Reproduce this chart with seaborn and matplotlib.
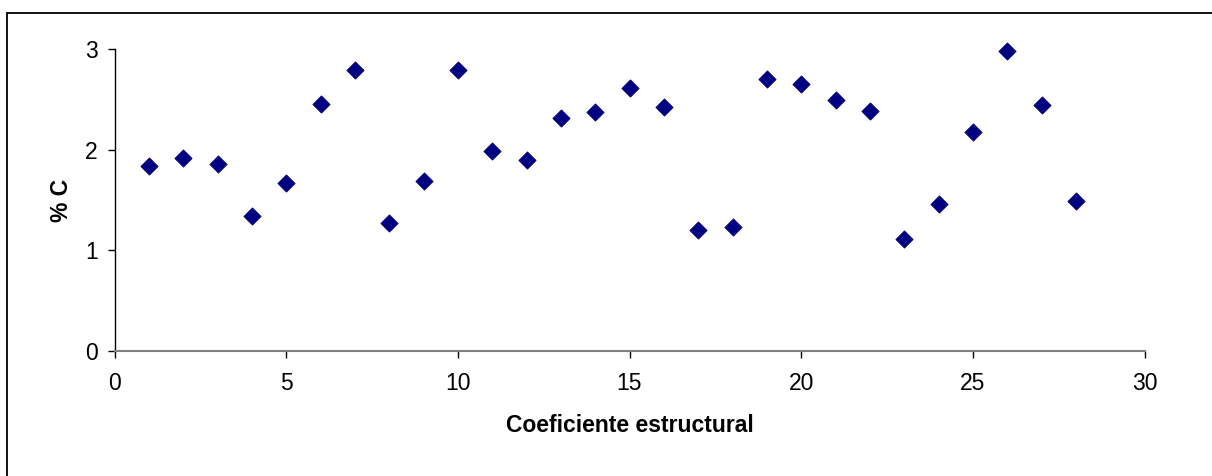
import matplotlib
matplotlib.use("Agg")
import matplotlib.pyplot as plt
from matplotlib.patches import Rectangle
import seaborn as sns
import pandas as pd

coef = [1, 2, 3, 4, 5, 6, 7, 8, 9, 10, 11, 12, 13, 14, 15, 16, 17, 18, 19, 20,
        21, 22, 23, 24, 25, 26, 27, 28]
pct_c = [1.84, 1.92, 1.86, 1.34, 1.67, 2.46, 2.79, 1.27, 1.69, 2.79, 1.99, 1.90,
         2.32, 2.38, 2.61, 2.43, 1.20, 1.23, 2.70, 2.65, 2.50, 2.39, 1.11, 1.46,
         2.18, 2.98, 2.45, 1.49]
x_ticks = [0, 5, 10, 15, 20, 25, 30]
y_ticks = [0, 1, 2, 3]
x_label = "Coeficiente estructural"
y_label = "% C"

df = pd.DataFrame({"x": coef, "y": pct_c})

sns.set_style("white")
plt.rcParams["font.family"] = ["Liberation Sans", "DejaVu Sans"]
plt.rcParams["text.color"] = "black"
plt.rcParams["axes.labelcolor"] = "black"

W, H = 1212, 476
fig = plt.figure(figsize=(W / 100, H / 100), dpi=100)
fig.patch.set_facecolor("white")
ax = fig.add_axes([114.5 / W, 1 - 350.7 / H, 1030 / W, 301.4 / H])

sns.scatterplot(data=df, x="x", y="y", ax=ax, marker="D", s=78,
                color="#000080", edgecolor="#000080", linewidth=0.5,
                legend=False, zorder=3, clip_on=False)

ax.set_xlim(0, 30)
ax.set_ylim(0, 3)
ax.set_xticks(x_ticks)
ax.set_yticks(y_ticks)
ax.set_xticklabels([str(t) for t in x_ticks])
ax.set_yticklabels([str(t) for t in y_ticks])

for s in ["top", "right"]:
    ax.spines[s].set_visible(False)
ax.spines["left"].set_color("black")
ax.spines["left"].set_linewidth(1.0)
ax.spines["bottom"].set_color("#808080")
ax.spines["bottom"].set_linewidth(1.5)

ax.tick_params(axis="both", which="major", direction="out", length=5,
               width=1.0, color="black", labelsize=16.5, labelcolor="black",
               bottom=True, left=True)
ax.tick_params(axis="x", pad=10)
ax.tick_params(axis="y", pad=7)

ax.set_xlabel(x_label, fontsize=16.5, fontweight="bold", labelpad=14,
              color="black")
ax.set_ylabel(y_label, fontsize=16.5, fontweight="bold", labelpad=9,
              color="black")
ax.grid(False)

fig.patches.append(Rectangle((7 / W, -0.2), 1.2, 1.2 - 12.5 / H,
                             transform=fig.transFigure, fill=False,
                             edgecolor="black", linewidth=1.3, zorder=10))

fig.savefig("out.png", dpi=100, facecolor="white")
